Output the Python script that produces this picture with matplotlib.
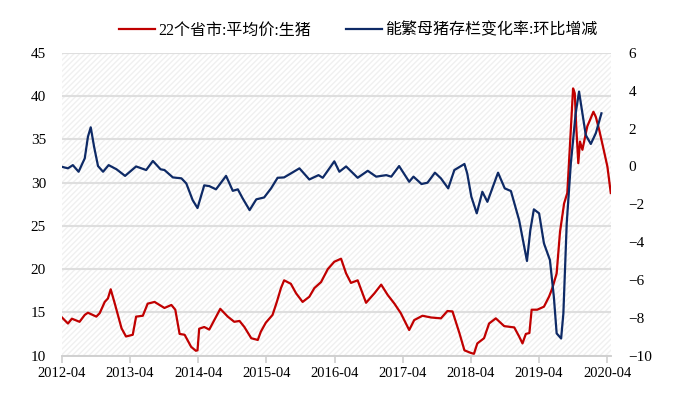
import pandas as pd
import matplotlib
matplotlib.use('Agg')
import matplotlib.pyplot as plt
import matplotlib.dates as mdates

# 22个省市:平均价:生猪 (左轴, 元/千克)
price_dates = [
    '2012-04-01', '2012-05-03', '2012-05-24', '2012-07-04', '2012-08-01', '2012-08-18',
    '2012-10-02', '2012-10-20', '2012-11-16', '2012-12-03', '2012-12-18', '2013-01-09',
    '2013-02-14', '2013-03-10', '2013-04-15', '2013-05-03', '2013-06-08', '2013-07-04',
    '2013-08-10', '2013-10-02', '2013-11-08', '2013-11-29', '2013-12-22', '2014-01-18',
    '2014-02-22', '2014-03-19', '2014-03-28', '2014-04-06', '2014-05-03', '2014-05-30',
    '2014-06-26', '2014-07-28', '2014-09-06', '2014-10-11', '2014-11-08', '2014-12-04',
    '2015-01-10', '2015-02-14', '2015-03-02', '2015-03-29', '2015-05-04', '2015-05-27',
    '2015-06-18', '2015-07-05', '2015-08-10', '2015-09-07', '2015-10-12', '2015-11-17',
    '2015-12-14', '2016-01-19', '2016-02-24', '2016-03-30', '2016-05-05', '2016-06-01',
    '2016-06-27', '2016-08-02', '2016-09-16', '2016-10-31', '2016-12-06', '2017-01-10',
    '2017-02-15', '2017-03-21', '2017-05-05', '2017-06-01', '2017-07-15', '2017-08-30',
    '2017-10-22', '2017-11-26', '2017-12-23', '2018-01-29', '2018-02-25', '2018-03-31',
    '2018-04-17', '2018-05-05', '2018-06-10', '2018-07-07', '2018-08-12', '2018-09-26',
    '2018-11-19', '2018-12-15', '2019-01-02', '2019-01-20', '2019-02-08', '2019-02-20',
    '2019-03-22', '2019-04-27', '2019-05-24', '2019-06-11', '2019-07-04', '2019-07-22',
    '2019-08-13', '2019-08-30', '2019-09-14', '2019-09-30', '2019-10-09', '2019-10-17',
    '2019-10-28', '2019-11-06', '2019-11-19', '2019-12-15', '2020-01-17', '2020-01-30',
    '2020-02-17', '2020-03-10', '2020-04-01', '2020-04-19',
]
price = [
    14.4, 13.7, 14.26, 13.9, 14.7, 14.95,
    14.5, 14.9, 16.2, 16.6, 17.66, 16.0,
    13.15, 12.2, 12.4, 14.5, 14.6, 16.0,
    16.2, 15.5, 15.85, 15.3, 12.5, 12.4,
    11.0, 10.55, 10.6, 13.1, 13.3, 13.0,
    14.1, 15.4, 14.5, 13.9, 14.0, 13.3,
    12.0, 11.8, 12.75, 13.8, 14.7, 16.2,
    17.8, 18.7, 18.3, 17.2, 16.2, 16.8,
    17.8, 18.5, 20.0, 20.85, 21.2, 19.5,
    18.4, 18.7, 16.1, 17.2, 18.2, 17.0,
    16.0, 14.9, 12.95, 14.1, 14.6, 14.4,
    14.3, 15.15, 15.1, 12.6, 10.6, 10.3,
    10.2, 11.4, 12.0, 13.7, 14.3, 13.4,
    13.25, 12.2, 11.4, 12.5, 12.6, 15.3,
    15.3, 15.65, 16.8, 17.8, 19.5, 24.3,
    27.6, 28.8, 34.6, 40.9, 40.35, 36.5,
    32.25, 34.75, 33.8, 36.5, 38.2, 37.6,
    36.1, 34.0, 31.85, 28.8,
]

# 能繁母猪存栏变化率:环比增减 (右轴, %)
sow_dates = [
    '2012-04-01', '2012-05-03', '2012-05-29', '2012-06-29', '2012-08-01', '2012-08-18',
    '2012-09-02', '2012-09-20', '2012-10-11', '2012-11-07', '2012-12-07', '2013-01-18',
    '2013-03-05', '2013-05-03', '2013-06-26', '2013-08-01', '2013-09-11', '2013-10-02',
    '2013-11-16', '2014-01-01', '2014-01-27', '2014-03-02', '2014-03-28', '2014-05-03',
    '2014-05-30', '2014-07-05', '2014-08-28', '2014-10-03', '2014-10-30', '2014-11-25',
    '2015-01-01', '2015-02-06', '2015-03-20', '2015-04-26', '2015-05-31', '2015-07-05',
    '2015-08-10', '2015-09-25', '2015-11-17', '2016-01-05', '2016-01-28', '2016-03-30',
    '2016-04-26', '2016-06-01', '2016-08-02', '2016-09-25', '2016-11-09', '2017-01-02',
    '2017-01-29', '2017-03-12', '2017-05-05', '2017-05-28', '2017-07-10', '2017-08-11',
    '2017-09-20', '2017-10-22', '2017-11-30', '2018-01-02', '2018-02-25', '2018-03-12',
    '2018-04-03', '2018-05-02', '2018-06-01', '2018-06-28', '2018-08-24', '2018-09-29',
    '2018-11-01', '2018-12-15', '2019-01-26', '2019-02-13', '2019-03-04', '2019-04-01',
    '2019-04-27', '2019-05-29', '2019-06-19', '2019-07-04', '2019-07-28', '2019-08-09',
    '2019-08-27', '2019-09-18', '2019-10-14', '2019-11-01', '2019-11-19', '2019-12-07',
    '2020-01-03', '2020-01-30', '2020-02-29',
]
sow = [
    -0.02, -0.1, 0.07, -0.28, 0.43, 1.57,
    2.07, 1.04, 0.02, -0.28, 0.07, -0.15,
    -0.5, 0.0, -0.19, 0.29, -0.15, -0.19,
    -0.58, -0.63, -0.9, -1.78, -2.2, -1.0,
    -1.04, -1.21, -0.5, -1.29, -1.21, -1.69,
    -2.31, -1.74, -1.64, -1.16, -0.6, -0.58,
    -0.37, -0.1, -0.69, -0.46, -0.6, 0.27,
    -0.28, 0.0, -0.6, -0.23, -0.54, -0.46,
    -0.54, 0.02, -0.81, -0.54, -0.93, -0.86,
    -0.33, -0.63, -1.16, -0.19, 0.13, -0.37,
    -1.6, -2.48, -1.34, -1.87, -0.33, -1.16,
    -1.3, -2.84, -5.0, -3.37, -2.27, -2.48,
    -4.07, -4.95, -6.89, -8.83, -9.1, -7.78,
    -3.0, 0.16, 2.81, 3.96, 2.81, 1.66,
    1.19, 1.76, 2.81,
]

label_price = '22个省市:平均价:生猪'
label_sow = '能繁母猪存栏变化率:环比增减'

fonts = ['Liberation Serif', 'Noto Sans CJK SC', 'DejaVu Sans']
plt.rcParams['font.family'] = fonts

fig = plt.figure(figsize=(6.79, 3.97), dpi=100)
ax = fig.add_axes([0.0913, 0.1045, 0.8085, 0.762])
ax2 = ax.twinx()

ax.patch.set_facecolor('white')
ax.patch.set_hatch('//////')
ax.patch.set_edgecolor('#f0f0f0')
ax.patch.set_linewidth(0)

red = '#C00000'
navy = '#0E2A66'
l1, = ax.plot(pd.to_datetime(price_dates), price, color=red, lw=1.6, label=label_price)
l2, = ax2.plot(pd.to_datetime(sow_dates), sow, color=navy, lw=1.6, label=label_sow)

ax.set_ylim(10, 45)
ax.set_yticks(range(10, 46, 5))
ax2.set_ylim(-10, 6)
ax2.set_yticks(range(-10, 7, 2))
ax.set_xlim(pd.Timestamp('2012-04-01'), pd.Timestamp('2020-04-20'))
ax.xaxis.set_major_locator(mdates.MonthLocator(bymonth=4, bymonthday=1))
ax.xaxis.set_major_formatter(mdates.DateFormatter('%Y-%m'))

ax.grid(axis='y', color='#dedede', lw=1.5)
ax.set_axisbelow(True)
for a in (ax, ax2):
    for s in ('top', 'left', 'right'):
        a.spines[s].set_visible(False)
    a.spines['bottom'].set_color('#d0d0d0')
    a.spines['bottom'].set_linewidth(1.2)
ax.tick_params(axis='y', length=0, labelsize=11, pad=11.5)
ax2.tick_params(axis='y', length=0, labelsize=11, pad=12.5)
ax.tick_params(axis='x', length=5, color='#d0d0d0', width=1.2, labelsize=10.5, pad=3)

fig.legend(handles=[l1, l2], loc='center', bbox_to_anchor=(0.528, 0.923),
           ncol=2, frameon=False, fontsize=11.5, handlelength=2.25,
           columnspacing=2.2, handletextpad=0.2)

fig.savefig('out.png', dpi=100)
